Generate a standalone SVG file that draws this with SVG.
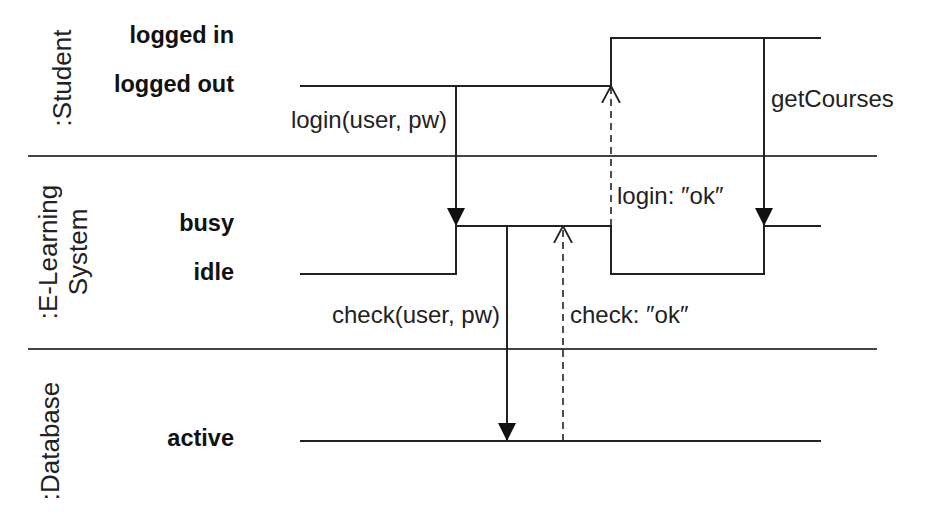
<svg xmlns="http://www.w3.org/2000/svg" width="930" height="530" viewBox="0 0 930 530">
  <style>
    .lane { font-family: "Liberation Sans", Arial, sans-serif; font-size: 26px; fill: #222; }
    .state { font-family: "Liberation Sans", Arial, sans-serif; font-size: 23.5px; font-weight: bold; fill: #111; text-anchor: end; }
    .msg { font-family: "Liberation Sans", Arial, sans-serif; font-size: 24px; fill: #222; }
    .tl { fill: none; stroke: #222; stroke-width: 2; }
    .div { fill: none; stroke: #444; stroke-width: 2.2; }
    .call { fill: none; stroke: #222; stroke-width: 2; marker-end: url(#filled); }
    .reply { fill: none; stroke: #222; stroke-width: 1.6; stroke-dasharray: 7 5; marker-end: url(#open); }
  </style>
  <defs>
    <marker id="filled" viewBox="0 0 18 18" refX="18" refY="9" markerWidth="18" markerHeight="18" markerUnits="userSpaceOnUse" orient="auto">
      <path d="M0,0 L18,9 L0,18 Z" fill="#111"/>
    </marker>
    <marker id="open" viewBox="0 0 18 20" refX="17" refY="10" markerWidth="18" markerHeight="20" markerUnits="userSpaceOnUse" orient="auto">
      <path d="M0,1 L17,10 L0,19" fill="none" stroke="#222" stroke-width="1.8"/>
    </marker>
  </defs>
  <rect width="930" height="530" fill="#fff"/>

  <g id="dividers">
    <line class="div" x1="28" y1="156" x2="877" y2="156"/>
    <line class="div" x1="28" y1="349" x2="877" y2="349"/>
  </g>

  <g id="student">
    <text class="lane" text-anchor="middle" transform="translate(71,78) rotate(-90)">:Student</text>
    <text class="state" x="234" y="43">logged in</text>
    <text class="state" x="234" y="92">logged out</text>
    <polyline class="tl" points="300,86 611,86 611,38 821,38"/>
  </g>

  <g id="elearning">
    <text class="lane" text-anchor="middle" transform="translate(57,252) rotate(-90)">:E-Learning</text>
    <text class="lane" text-anchor="middle" transform="translate(87,252) rotate(-90)">System</text>
    <text class="state" x="234" y="231">busy</text>
    <text class="state" x="234" y="280">idle</text>
    <polyline class="tl" points="300,274 456,274 456,226 611,226 611,274 764,274 764,226 821,226"/>
  </g>

  <g id="database">
    <text class="lane" text-anchor="middle" transform="translate(59,441) rotate(-90)">:Database</text>
    <text class="state" x="234" y="446">active</text>
    <line class="tl" x1="300" y1="441" x2="821" y2="441"/>
  </g>

  <g id="connectors">
    <line class="call" x1="456" y1="86" x2="456" y2="226"/>
    <text class="msg" x="447" y="128" text-anchor="end">login(user, pw)</text>

    <line class="call" x1="507" y1="226" x2="507" y2="441"/>
    <text class="msg" x="500" y="323" text-anchor="end">check(user, pw)</text>

    <line class="reply" x1="563" y1="441" x2="563" y2="226"/>
    <text class="msg" x="570" y="323">check: ″ok″</text>

    <line class="reply" x1="611" y1="226" x2="611" y2="86"/>
    <text class="msg" x="617" y="204">login: ″ok″</text>

    <line class="call" x1="764" y1="38" x2="764" y2="226"/>
    <text class="msg" x="771" y="107">getCourses</text>
  </g>
</svg>
